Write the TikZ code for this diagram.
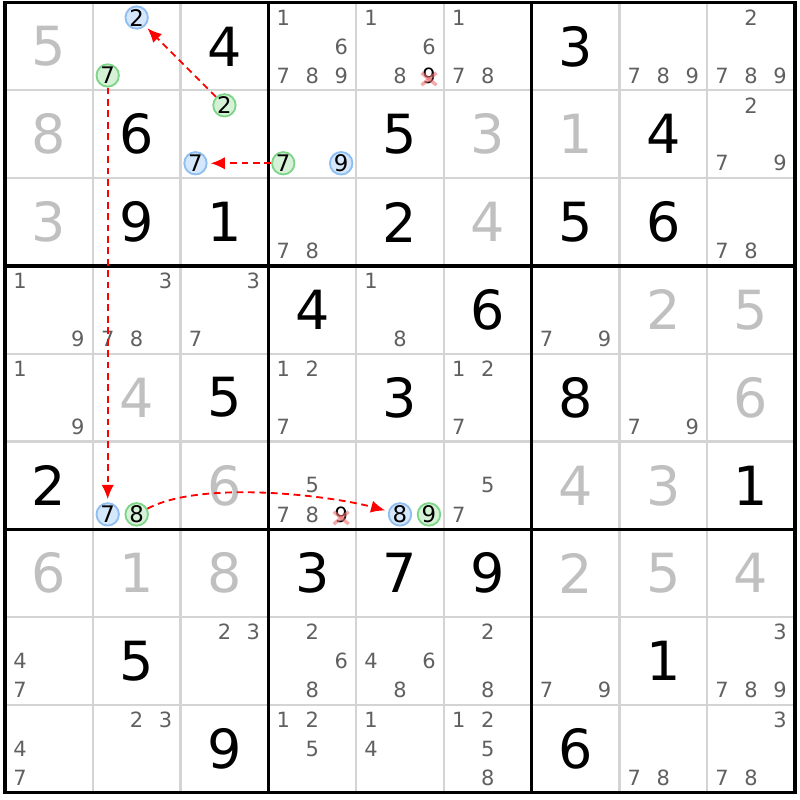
\documentclass[tikz,border=0pt]{standalone}
\usepackage{fontspec}
\setmainfont{DejaVu Sans}
\usetikzlibrary{arrows.meta}
\definecolor{solvedgray}{HTML}{C0C0C0}
\definecolor{candgray}{HTML}{606060}
\definecolor{thingray}{HTML}{D4D4D4}
\definecolor{blueline}{HTML}{8FBEF0}
\definecolor{bluefill}{HTML}{D5E7FA}
\definecolor{greenline}{HTML}{7ED58A}
\definecolor{greenfill}{HTML}{D6F2D6}
\definecolor{strikered}{HTML}{F07070}
\tikzset{
  given/.style={font=\fontsize{17.5}{17.5}\selectfont, inner sep=0pt},
  solved/.style={given, text=solvedgray},
  candidate/.style={font=\fontsize{6.8}{7}\selectfont, text=candgray, inner sep=0pt},
  crossed/.style={candidate, text=black},
  markblue/.style={candidate, font=\fontsize{7.4}{8}\selectfont, text=black, circle, minimum size=0.255cm, draw=blueline, fill=bluefill, line width=0.6pt},
  markgreen/.style={candidate, font=\fontsize{7.4}{8}\selectfont, text=black, circle, minimum size=0.255cm, draw=greenline, fill=greenfill, line width=0.6pt},
  strike/.style={strikered, line width=1.1pt, opacity=0.6},
  link/.style={red, dashed, dash pattern=on 2.2pt off 1.5pt, line width=0.6pt, shorten >=1pt, -{Latex[length=4.6pt,width=4pt]}},
}
% candidate #4 of cell (row #2, column #3)
\newcommand{\putcand}[4][candidate]{%
  \pgfmathsetmacro{\candx}{#3-1+0.17+0.33*mod(#4-1,3)}%
  \pgfmathsetmacro{\candy}{9-#2+0.83-0.33*floor((#4-1)/3)}%
  \node[#1] (k#2#3#4) at (\candx,\candy) {#4};%
}
\begin{document}
\begin{tikzpicture}
\useasboundingbox (-0.057,-0.084) rectangle (9.057,9.03);
%%% grid
\foreach \i in {1,2,4,5,7,8} {
  \draw[thingray, line width=0.7pt] (\i,0) -- (\i,9);
  \draw[thingray, line width=0.7pt] (0,\i) -- (9,\i);
}
\foreach \i in {0,3,6,9} {
  \draw[black, line width=1.1pt] (\i,-0.017) -- (\i,9.017);
  \draw[black, line width=1.1pt] (-0.017,\i) -- (9.017,\i);
}
%%% givens and solved cells
\foreach \r/\c/\d in {1/3/4, 1/7/3, 2/2/6, 2/5/5, 2/8/4, 3/2/9, 3/3/1, 3/5/2,
  3/7/5, 3/8/6, 4/4/4, 4/6/6, 5/3/5, 5/5/3, 5/7/8, 6/1/2, 6/9/1, 7/4/3,
  7/5/7, 7/6/9, 8/2/5, 8/8/1, 9/3/9, 9/7/6}
  \node[given] (g\r\c) at (\c-0.5,9.5-\r) {\d};
\foreach \r/\c/\d in {1/1/5, 2/1/8, 2/6/3, 2/7/1, 3/1/3, 3/6/4, 4/8/2, 4/9/5,
  5/2/4, 5/9/6, 6/3/6, 6/7/4, 6/8/3, 7/1/6, 7/2/1, 7/3/8, 7/7/2, 7/8/5, 7/9/4}
  \node[solved] (g\r\c) at (\c-0.5,9.5-\r) {\d};
%%% candidates
\foreach \r/\c/\ds in {1/4/{1,6,7,8,9}, 1/5/{1,6,8}, 1/6/{1,7,8}, 1/8/{7,8,9},
  1/9/{2,7,8,9}, 2/9/{2,7,9}, 3/4/{7,8}, 3/9/{7,8}, 4/1/{1,9}, 4/2/{3,7,8},
  4/3/{3,7}, 4/5/{1,8}, 4/7/{7,9}, 5/1/{1,9}, 5/4/{1,2,7}, 5/6/{1,2,7},
  5/8/{7,9}, 6/4/{5,7,8}, 6/6/{5,7}, 8/1/{4,7}, 8/3/{2,3}, 8/4/{2,6,8},
  8/5/{4,6,8}, 8/6/{2,8}, 8/7/{7,9}, 8/9/{3,7,8,9}, 9/1/{4,7}, 9/2/{2,3},
  9/4/{1,2,5}, 9/5/{1,4}, 9/6/{1,2,5,8}, 9/8/{7,8}, 9/9/{3,7,8}}
  { \foreach \d in \ds {\putcand{\r}{\c}{\d}} }
%%% marked candidates
\putcand[markblue]{1}{2}{2}
\putcand[markgreen]{1}{2}{7}
\putcand[markgreen]{2}{3}{2}
\putcand[markblue]{2}{3}{7}
\putcand[markgreen]{2}{4}{7}
\putcand[markblue]{2}{4}{9}
\putcand[markblue]{6}{2}{7}
\putcand[markgreen]{6}{2}{8}
\putcand[markblue]{6}{5}{8}
\putcand[markgreen]{6}{5}{9}
%%% eliminated
\putcand[crossed]{1}{5}{9}
\putcand[crossed]{6}{4}{9}
\foreach \k in {k159, k649} {
  \draw[strike] ([shift={(-0.085,0.03)}]\k.center) -- ([shift={(0.085,-0.11)}]\k.center);
  \draw[strike] ([shift={(-0.085,-0.11)}]\k.center) -- ([shift={(0.085,0.03)}]\k.center);
}
%%% chain
\draw[link] (k232) -- (k122);
\draw[link] (k247) -- (k237);
\draw[link] (k127) -- (k627);
\draw[link] (k628) to[out=28,in=165,looseness=0.65] (k658);
\end{tikzpicture}
\end{document}
